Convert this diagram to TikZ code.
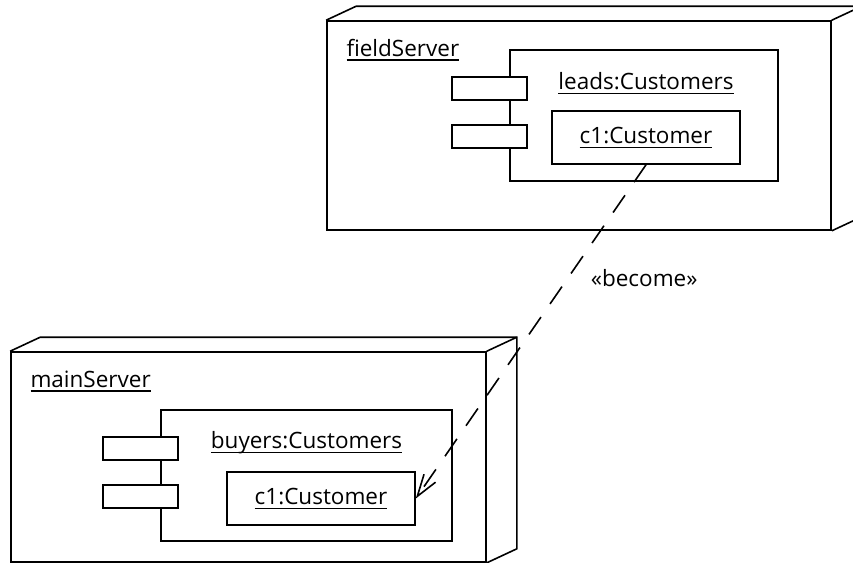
\documentclass[tikz,border=0pt]{standalone}
\usepackage{fontspec}
\setmainfont{Open Sans}
\usepackage{tikz}
\usetikzlibrary{positioning,arrows.meta,calc}

\newlength{\ulwidth}
\newcommand{\uml}[1]{\settowidth{\ulwidth}{#1}\rlap{\rule[-5pt]{\ulwidth}{1.6pt}}#1}

\tikzset{
  face/.style={draw,line width=1.6pt,fill=white,inner sep=0pt},
  port/.style={face,minimum width=75pt,minimum height=23pt},
  depth/.style={line width=1.6pt,line join=miter},
}

\begin{document}
\begin{tikzpicture}[x=1pt,y=-1pt,font=\fontsize{22.5}{26}\selectfont]
\useasboundingbox (0,0) rectangle (853,562);
\clip (0,0) rectangle (853,562);
% nodes
\node[face,minimum width=504pt,minimum height=209pt] (field) at (579,125.5) {};
\node[face,minimum width=475pt,minimum height=210pt] (main) at (248.5,457) {};
\foreach \n in {field,main} {
  \draw[depth] (\n.north west) -- ++(30,-14) -- ($(\n.north east)+(30,-14)$)
    -- ($(\n.south east)+(30,-14)$) -- (\n.south east);
  \draw[depth] (\n.north east) -- ++(30,-14);
}
\node[anchor=base west] (fieldname) at (343,56) {\uml{fieldServer}};
\node[anchor=base west] (mainname) at (27,387) {\uml{mainServer}};
% components
\node[face,minimum width=268pt,minimum height=131pt] (leads) at (644,115.5) {};
\node[face,minimum width=291pt,minimum height=131pt] (buyers) at (306.5,475.5) {};
\foreach \c in {leads,buyers} {
  \node[port] (\c-p1) at ($(\c.north west)+(-19.5,39.5)$) {};
  \node[port] (\c-p2) at ($(\c.north west)+(-19.5,87)$) {};
}
\node[anchor=base] (leadsname) at ($(leads.north)+(2,40)$) {\uml{leads:Customers}};
\node[anchor=base] (buyersname) at ($(buyers.north)+(0,39)$) {\uml{buyers:Customers}};
% objects
\node[face,minimum width=188pt,minimum height=53pt] (leadsc1) at (646,137.5) {\uml{c1:Customer}};
\node[face,minimum width=188pt,minimum height=53pt] (buyersc1) at (321,498.5) {\uml{c1:Customer}};
% become
\draw[line width=1.6pt,dash pattern=on 21pt off 16pt,-{Straight Barb[length=22pt,width=14pt]}]
  (leadsc1.south) -- (buyersc1.east)
  node[pos=0.34,anchor=west,xshift=19pt] (become) {«become»};
\end{tikzpicture}
\end{document}
